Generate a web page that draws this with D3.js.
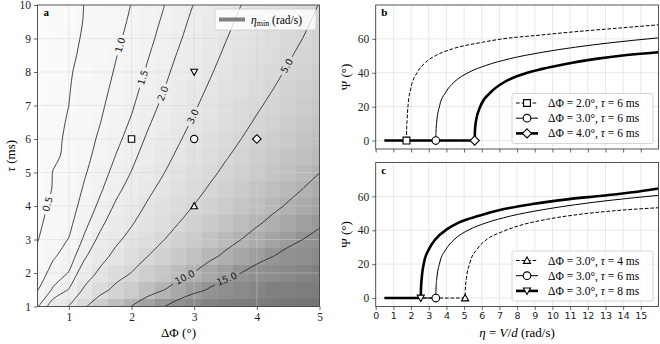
<!DOCTYPE html>
<html>
<head>
<meta charset="utf-8">
<script src="https://cdn.jsdelivr.net/npm/d3@7"></script>
<style>
body { margin: 0; background: #fff; }
svg { display: block; }
</style>
</head>
<body>
<svg id="fig" width="660" height="344"></svg>
<script>
// ---------- data ----------
// panel a: eta_min (rad/s) on a grid, rows = tau (ms), columns = delta phi (deg)
var dphi = [0.5, 0.75, 1, 1.25, 1.5, 1.75, 2, 2.25, 2.5, 2.75, 3, 3.25, 3.5, 3.75, 4, 4.25, 4.5, 4.75, 5];
var tau = [1, 1.5, 2, 2.5, 3, 3.5, 4, 4.5, 5, 5.5, 6, 6.5, 7, 7.5, 8, 8.5, 9, 9.5, 10];
var etaMin = [
  [1.45, 2.35, 3.05, 4.75, 6.45, 8.3, 10.1, 12.4, 14.7, 17.4, 20.2, 23.3, 26.6, 30.0, 33.6, 37.3, 41.2, 45.4, 49.8],
  [0.97, 1.57, 2.03, 3.17, 4.30, 5.53, 6.73, 8.27, 9.80, 11.6, 13.5, 15.5, 17.7, 20.0, 22.4, 24.9, 27.5, 30.3, 33.2],
  [0.73, 1.18, 1.53, 2.38, 3.23, 4.15, 5.05, 6.20, 7.35, 8.70, 10.1, 11.7, 13.3, 15.0, 16.8, 18.7, 20.6, 22.7, 24.9],
  [0.58, 0.94, 1.22, 1.90, 2.58, 3.32, 4.04, 4.96, 5.88, 6.96, 8.08, 9.32, 10.6, 12.0, 13.4, 14.9, 16.5, 18.2, 19.9],
  [0.48, 0.78, 1.02, 1.58, 2.15, 2.77, 3.37, 4.13, 4.90, 5.80, 6.73, 7.77, 8.87, 10.0, 11.2, 12.4, 13.7, 15.1, 16.6],
  [0.41, 0.67, 0.87, 1.36, 1.84, 2.37, 2.89, 3.54, 4.20, 4.97, 5.77, 6.66, 7.60, 8.57, 9.60, 10.7, 11.8, 13.0, 14.2],
  [0.36, 0.59, 0.76, 1.19, 1.61, 2.08, 2.53, 3.10, 3.68, 4.35, 5.05, 5.83, 6.65, 7.50, 8.40, 9.33, 10.3, 11.4, 12.5],
  [0.32, 0.52, 0.68, 1.06, 1.43, 1.84, 2.24, 2.76, 3.27, 3.87, 4.49, 5.18, 5.91, 6.67, 7.47, 8.29, 9.16, 10.1, 11.1],
  [0.29, 0.51, 0.61, 0.95, 1.29, 1.66, 2.02, 2.48, 2.94, 3.48, 4.04, 4.66, 5.32, 6.00, 6.72, 7.46, 8.24, 9.08, 9.96],
  [0.26, 0.45, 0.56, 0.86, 1.17, 1.51, 1.84, 2.25, 2.67, 3.16, 3.67, 4.24, 4.84, 5.45, 6.11, 6.78, 7.49, 8.25, 9.05],
  [0.24, 0.43, 0.55, 0.79, 1.08, 1.38, 1.68, 2.07, 2.45, 2.90, 3.37, 3.88, 4.43, 5.00, 5.60, 6.22, 6.87, 7.57, 8.30],
  [0.22, 0.40, 0.53, 0.73, 0.99, 1.28, 1.55, 1.91, 2.26, 2.68, 3.11, 3.58, 4.09, 4.62, 5.17, 5.74, 6.34, 6.98, 7.66],
  [0.21, 0.37, 0.50, 0.68, 0.92, 1.19, 1.44, 1.77, 2.10, 2.49, 2.89, 3.33, 3.80, 4.29, 4.80, 5.33, 5.89, 6.49, 7.11],
  [0.19, 0.34, 0.48, 0.66, 0.86, 1.11, 1.35, 1.65, 1.96, 2.32, 2.69, 3.11, 3.55, 4.00, 4.48, 4.97, 5.49, 6.05, 6.64],
  [0.18, 0.31, 0.46, 0.62, 0.81, 1.04, 1.26, 1.55, 1.84, 2.18, 2.53, 2.91, 3.33, 3.75, 4.20, 4.66, 5.15, 5.68, 6.23],
  [0.17, 0.29, 0.42, 0.58, 0.76, 0.98, 1.19, 1.46, 1.73, 2.05, 2.38, 2.74, 3.13, 3.53, 3.95, 4.39, 4.85, 5.34, 5.86],
  [0.16, 0.27, 0.38, 0.55, 0.72, 0.92, 1.12, 1.38, 1.63, 1.93, 2.24, 2.59, 2.96, 3.33, 3.73, 4.14, 4.58, 5.04, 5.53],
  [0.15, 0.26, 0.35, 0.52, 0.68, 0.87, 1.06, 1.31, 1.55, 1.83, 2.13, 2.45, 2.80, 3.16, 3.54, 3.93, 4.34, 4.78, 5.30],
  [0.15, 0.25, 0.33, 0.51, 0.65, 0.83, 1.01, 1.24, 1.47, 1.74, 2.02, 2.33, 2.66, 3.00, 3.36, 3.73, 4.12, 4.54, 5.05]
];
var levels = [0.5, 1, 1.5, 2, 3, 5, 10, 15];
var labelDphi = [0.66, 1.82, 2.18, 2.50, 2.98, 4.48, 2.85, 3.52]; // where each level label sits (deg)
var caseDphi = [2, 3, 4, 3, 3];
var caseTau = [6, 6, 6, 4, 8];
var caseSym = ["square", "circle", "diamond", "triUp", "triDown"];

// panels b, c: Psi (deg) vs eta (rad/s)
var etaSq = [0.5, 1.74, 1.75, 1.775, 1.83, 1.98, 2.36, 2.83, 3.40, 4.34, 6.04, 7.17, 9.06, 10.94, 13.2, 16];
var psiSq = [0, 0, 6.5, 12, 20.7, 30.5, 40.3, 46.2, 50.2, 54.1, 58, 60, 62, 63.9, 65.9, 68.3];
var etaCi = [0.5, 3.40, 3.41, 3.45, 3.62, 3.96, 4.43, 5.28, 6.23, 7.55, 9.43, 11.3, 13.2, 16];
var psiCi = [0, 0, 4.6, 10.8, 20.7, 28.5, 34.4, 40.3, 44.3, 48.2, 52.1, 55.1, 57.6, 60.6];
var etaDi = [0.5, 5.60, 5.61, 5.66, 5.94, 6.51, 7.26, 8.11, 9.43, 10.75, 12.45, 13.96, 16];
var psiDi = [0, 0, 4.5, 10.8, 20.7, 28.5, 34.4, 38.4, 42.3, 45.2, 48.2, 50.2, 52.1];
var etaTu = [0.5, 5.06, 5.07, 5.13, 5.34, 5.75, 6.32, 7.08, 8.11, 9.81, 11.7, 13.58, 16];
var psiTu = [0, 0, 4.8, 11.4, 21.2, 29, 34.9, 38.8, 42.7, 46.7, 49.6, 51.6, 53.3];
var etaTd = [0.5, 2.55, 2.56, 2.60, 2.74, 3.02, 3.40, 4.06, 4.72, 5.85, 7.26, 8.87, 10.94, 12.83, 14.53, 16];
var psiTd = [0, 0, 4.8, 11.4, 21.2, 29, 34.9, 40.8, 44.7, 48.6, 52.5, 55.5, 58.4, 60.4, 62.4, 64.7];

var seriesB = [
  { eta: etaSq, psi: psiSq, sym: "square", dphi: "2.0", tau: "6", style: "dash" },
  { eta: etaCi, psi: psiCi, sym: "circle", dphi: "3.0", tau: "6", style: "thin" },
  { eta: etaDi, psi: psiDi, sym: "diamond", dphi: "4.0", tau: "6", style: "thick" }
];
var seriesC = [
  { eta: etaTu, psi: psiTu, sym: "triUp", dphi: "3.0", tau: "4", style: "dash" },
  { eta: etaCi, psi: psiCi, sym: "circle", dphi: "3.0", tau: "6", style: "thin" },
  { eta: etaTd, psi: psiTd, sym: "triDown", dphi: "3.0", tau: "8", style: "thick" }
];

// ---------- helpers ----------
var serif = '"Liberation Serif", "DejaVu Serif", serif';
var sans = '"DejaVu Sans", sans-serif';
var frameCol = "#404040";
var svg = d3.select("#fig");

function symPath(sym, size) {
  var s = size;
  if (sym === "square") return "M" + (-s) + "," + (-s) + "H" + s + "V" + s + "H" + (-s) + "Z";
  if (sym === "circle") return "M" + s + ",0A" + s + "," + s + " 0 1,1 " + (-s) + ",0A" + s + "," + s + " 0 1,1 " + s + ",0Z";
  if (sym === "diamond") { var d = s * 1.35; return "M0," + (-d) + "L" + d + ",0L0," + d + "L" + (-d) + ",0Z"; }
  var h = s * 1.05;
  if (sym === "triUp") return "M0," + (-h) + "L" + h + "," + (h * 0.8) + "L" + (-h) + "," + (h * 0.8) + "Z";
  return "M0," + h + "L" + h + "," + (-h * 0.8) + "L" + (-h) + "," + (-h * 0.8) + "Z";
}

function styleAxis(g, font, size) {
  g.select(".domain").remove();
  g.selectAll(".tick line").attr("stroke", frameCol).attr("stroke-width", 0.8);
  g.selectAll(".tick text").attr("font-family", font).attr("font-size", size).attr("fill", "#222");
}

// ---------- panel a ----------
var A = { l: 37.5, r: 319.5, t: 5, b: 306.5 };
var ax = d3.scaleLinear().domain([0.5, 5]).range([A.l, A.r]);
var ay = d3.scaleLinear().domain([1, 10]).range([A.b, A.t]);
var grey = d3.scaleLinear()
  .domain([0, 1, 3, 5, 10, 15, 25, 50])
  .range(["#fcfcfc", "#f5f5f5", "#e6e6e6", "#d7d7d7", "#b3b3b3", "#949494", "#808080", "#737373"]);

var defs = svg.append("defs");
defs.append("clipPath").attr("id", "clipA").append("rect")
  .attr("x", A.l).attr("y", A.t).attr("width", A.r - A.l).attr("height", A.b - A.t);

var pa = svg.append("g").attr("clip-path", "url(#clipA)");

function edges(v) {
  return v.map(function (d, i) {
    var lo = i === 0 ? d - (v[1] - v[0]) / 2 : (v[i - 1] + d) / 2;
    var hi = i === v.length - 1 ? d + (v[i] - v[i - 1]) / 2 : (d + v[i + 1]) / 2;
    return [lo, hi];
  });
}
var ex = edges(dphi), ey = edges(tau);
var cells = [];
etaMin.forEach(function (row, j) {
  row.forEach(function (v, i) { cells.push({ i: i, j: j, v: v }); });
});
pa.append("g").attr("shape-rendering", "crispEdges")
  .selectAll("rect").data(cells).enter().append("rect")
  .attr("x", function (d) { return ax(ex[d.i][0]); })
  .attr("y", function (d) { return ay(ey[d.j][1]); })
  .attr("width", function (d) { return ax(ex[d.i][1]) - ax(ex[d.i][0]) + 0.5; })
  .attr("height", function (d) { return ay(ey[d.j][0]) - ay(ey[d.j][1]) + 0.5; })
  .attr("fill", function (d) { return grey(d.v); });

// grid
var ga = pa.append("g").attr("stroke", "#d4d4d4").attr("stroke-opacity", 0.55).attr("stroke-width", 0.8);
[1, 2, 3, 4].forEach(function (v) {
  ga.append("line").attr("x1", ax(v)).attr("x2", ax(v)).attr("y1", A.t).attr("y2", A.b);
});
[2, 3, 4, 5, 6, 7, 8, 9].forEach(function (v) {
  ga.append("line").attr("y1", ay(v)).attr("y2", ay(v)).attr("x1", A.l).attr("x2", A.r);
});

// contours
var nx = dphi.length, ny = tau.length;
var flat = [];
etaMin.forEach(function (row) { row.forEach(function (v) { flat.push(v); }); });
var conts = d3.contours().size([nx, ny]).thresholds(levels)(flat);
var gx = d3.scaleLinear().domain([0.5, nx - 0.5]).range([dphi[0], dphi[nx - 1]]);
var gy = d3.scaleLinear().domain([0.5, ny - 0.5]).range([tau[0], tau[ny - 1]]);

function ringRuns(ring) {
  var pts = ring.slice(0, ring.length - 1);
  var inside = pts.map(function (p) { return p[0] > 0 && p[0] < nx && p[1] > 0 && p[1] < ny; });
  var start = inside.indexOf(false);
  var runs = [], cur = [];
  if (start < 0) return [pts.concat([pts[0]])];
  for (var k = 1; k <= pts.length; k++) {
    var idx = (start + k) % pts.length;
    if (inside[idx]) cur.push(pts[idx]);
    else { if (cur.length > 1) runs.push(cur); cur = []; }
  }
  if (cur.length > 1) runs.push(cur);
  return runs;
}

var levelRuns = conts.map(function (c) {
  var runs = [];
  c.coordinates.forEach(function (poly) {
    poly.forEach(function (ring) {
      ringRuns(ring).forEach(function (r) {
        runs.push(r.map(function (p) { return [ax(gx(p[0])), ay(gy(p[1]))]; }));
      });
    });
  });
  return runs;
});

function findAt(runs, X) {
  for (var r = 0; r < runs.length; r++) {
    var run = runs[r];
    for (var k = 0; k < run.length - 1; k++) {
      var p = run[k], q = run[k + 1];
      if ((p[0] - X) * (q[0] - X) <= 0 && p[0] !== q[0]) {
        var t = (X - p[0]) / (q[0] - p[0]);
        var ang = Math.atan2(q[1] - p[1], q[0] - p[0]) * 180 / Math.PI;
        if (ang > 90) ang -= 180;
        if (ang <= -90) ang += 180;
        return { x: X, y: p[1] + t * (q[1] - p[1]), a: ang };
      }
    }
  }
  return null;
}

var mask = defs.append("mask").attr("id", "labelGaps");
mask.append("rect").attr("x", 0).attr("y", 0).attr("width", 660).attr("height", 344).attr("fill", "#fff");

var line = d3.line().curve(d3.curveCatmullRom.alpha(0.5));
var cg = pa.append("g").attr("mask", "url(#labelGaps)")
  .attr("fill", "none").attr("stroke", "#1a1a1a").attr("stroke-width", 0.8);
levelRuns.forEach(function (runs) {
  runs.forEach(function (run) { cg.append("path").attr("d", line(run)); });
});

var lg = svg.append("g");
levels.forEach(function (lv, i) {
  var pos = findAt(levelRuns[i], ax(labelDphi[i]));
  if (!pos) return;
  var t = lg.append("text")
    .attr("transform", "translate(" + pos.x + "," + pos.y + ") rotate(" + pos.a + ")")
    .attr("text-anchor", "middle").attr("dy", "0.35em")
    .attr("font-family", sans).attr("font-size", 9.5).attr("fill", "#1a1a1a")
    .text(lv.toFixed(1));
  var w = t.node().getComputedTextLength() + 6;
  mask.append("rect")
    .attr("x", -w / 2).attr("y", -5).attr("width", w).attr("height", 10)
    .attr("transform", "translate(" + pos.x + "," + pos.y + ") rotate(" + pos.a + ")")
    .attr("fill", "#000");
});

// case markers
svg.append("g").selectAll("path").data(caseSym).enter().append("path")
  .attr("transform", function (d, i) { return "translate(" + ax(caseDphi[i]) + "," + ay(caseTau[i]) + ")"; })
  .attr("d", function (d) { return symPath(d, d === "circle" ? 3.6 : 3.2); })
  .attr("fill", "#fff").attr("stroke", "#000").attr("stroke-width", 1.1);

// frame + axes
svg.append("rect").attr("x", A.l).attr("y", A.t).attr("width", A.r - A.l).attr("height", A.b - A.t)
  .attr("fill", "none").attr("stroke", frameCol).attr("stroke-width", 0.9);
svg.append("g").attr("transform", "translate(0," + A.b + ")")
  .call(d3.axisBottom(ax).tickValues([1, 2, 3, 4, 5]).tickFormat(d3.format("d")).tickSize(3.5).tickPadding(3))
  .call(styleAxis, serif, 11.5);
svg.append("g").attr("transform", "translate(" + A.l + ",0)")
  .call(d3.axisLeft(ay).tickValues([1, 2, 3, 4, 5, 6, 7, 8, 9, 10]).tickFormat(d3.format("d")).tickSize(3.5).tickPadding(3))
  .call(styleAxis, serif, 11.5);

svg.append("text").attr("x", (A.l + A.r) / 2).attr("y", 337).attr("text-anchor", "middle")
  .attr("font-family", serif).attr("font-size", 13).text("ΔΦ (°)");
var tl = svg.append("text").attr("transform", "translate(15," + (A.t + A.b) / 2 + ") rotate(-90)")
  .attr("text-anchor", "middle").attr("font-family", serif).attr("font-size", 13);
tl.append("tspan").attr("font-style", "italic").text("τ");
tl.append("tspan").text(" (ms)");

svg.append("text").attr("x", A.l + 6).attr("y", A.t + 11).attr("font-family", serif)
  .attr("font-weight", "bold").attr("font-size", 11).text("a");

// legend a
var la = svg.append("g").attr("transform", "translate(215,9)");
la.append("rect").attr("width", 101).attr("height", 21).attr("rx", 2)
  .attr("fill", "#fff").attr("fill-opacity", 0.8).attr("stroke", "#cccccc").attr("stroke-width", 0.8);
la.append("line").attr("x1", 4).attr("x2", 30).attr("y1", 10.5).attr("y2", 10.5)
  .attr("stroke", "#808080").attr("stroke-width", 4);
var lat = la.append("text").attr("x", 36).attr("y", 14.5).attr("font-family", serif).attr("font-size", 11.5);
lat.append("tspan").attr("font-style", "italic").text("η");
lat.append("tspan").attr("font-size", 8).attr("dy", 2.5).text("min");
lat.append("tspan").attr("dy", -2.5).text(" (rad/s)");

// ---------- panels b, c ----------
var X0 = 375.7, X1 = 658.5;
var bx = d3.scaleLinear().domain([0, 16]).range([X0, X1]);
var strokeStyles = {
  dash: { w: 1, dash: "3.7,1.8" },
  thin: { w: 1, dash: null },
  thick: { w: 2.6, dash: null }
};

function psiPanel(series, top, bottom, letter, showX) {
  var y = d3.scaleLinear().domain([-5, 80]).range([bottom, top]);
  var id = "clip" + letter;
  defs.append("clipPath").attr("id", id).append("rect")
    .attr("x", X0).attr("y", top).attr("width", X1 - X0).attr("height", bottom - top);

  var grid = svg.append("g").attr("stroke", "#e2e2e2").attr("stroke-width", 0.8);
  d3.range(1, 16).forEach(function (v) {
    grid.append("line").attr("x1", bx(v)).attr("x2", bx(v)).attr("y1", top).attr("y2", bottom);
  });
  [0, 20, 40, 60].forEach(function (v) {
    grid.append("line").attr("y1", y(v)).attr("y2", y(v)).attr("x1", X0).attr("x2", X1);
  });

  var g = svg.append("g").attr("clip-path", "url(#" + id + ")");
  var ln = d3.line().x(function (d) { return bx(d[0]); }).y(function (d) { return y(d[1]); })
    .curve(d3.curveMonotoneX);
  series.forEach(function (s) {
    var st = strokeStyles[s.style];
    g.append("path").datum(s.eta.map(function (e, i) { return [e, s.psi[i]]; }))
      .attr("d", ln).attr("fill", "none").attr("stroke", "#000")
      .attr("stroke-width", st.w).attr("stroke-dasharray", st.dash);
  });
  series.forEach(function (s) {
    g.append("path")
      .attr("transform", "translate(" + bx(s.eta[1]) + "," + y(s.psi[1]) + ")")
      .attr("d", symPath(s.sym, s.sym === "circle" ? 3.8 : 3.4))
      .attr("fill", "#fff").attr("stroke", "#000").attr("stroke-width", 1.1);
  });

  svg.append("rect").attr("x", X0).attr("y", top).attr("width", X1 - X0).attr("height", bottom - top)
    .attr("fill", "none").attr("stroke", frameCol).attr("stroke-width", 0.9);
  svg.append("g").attr("transform", "translate(0," + bottom + ")")
    .call(d3.axisBottom(bx).tickValues(d3.range(0, 16)).tickFormat(showX ? d3.format("d") : "")
      .tickSize(3.5).tickPadding(2.5))
    .call(styleAxis, sans, 9.5);
  svg.append("g").attr("transform", "translate(" + X0 + ",0)")
    .call(d3.axisLeft(y).tickValues([0, 20, 40, 60]).tickFormat(d3.format("d")).tickSize(3.5).tickPadding(3))
    .call(styleAxis, serif, 11.5);

  svg.append("text").attr("x", X0 + 5.5).attr("y", top + 11).attr("font-family", serif)
    .attr("font-weight", "bold").attr("font-size", 11).text(letter);
  svg.append("text").attr("transform", "translate(350," + (top + bottom) / 2 + ") rotate(-90)")
    .attr("text-anchor", "middle").attr("font-family", serif).attr("font-size", 13).text("Ψ (°)");

  // legend
  var lw = 141, lh = 50;
  var lgd = svg.append("g").attr("transform", "translate(" + (X1 - 5.5 - lw) + "," + (bottom - 5.5 - lh) + ")");
  lgd.append("rect").attr("width", lw).attr("height", lh).attr("rx", 2)
    .attr("fill", "#fff").attr("fill-opacity", 0.8).attr("stroke", "#cccccc").attr("stroke-width", 0.8);
  series.forEach(function (s, i) {
    var cy = 9.5 + i * 15.2;
    var st = strokeStyles[s.style];
    lgd.append("line").attr("x1", 4).attr("x2", 26).attr("y1", cy).attr("y2", cy)
      .attr("stroke", "#000").attr("stroke-width", st.w).attr("stroke-dasharray", st.dash);
    lgd.append("path").attr("transform", "translate(15," + cy + ")")
      .attr("d", symPath(s.sym, s.sym === "circle" ? 3.8 : 3.4))
      .attr("fill", "#fff").attr("stroke", "#000").attr("stroke-width", 1.1);
    var t = lgd.append("text").attr("x", 36).attr("y", cy + 4)
      .attr("font-family", serif).attr("font-size", 11.5);
    t.append("tspan").text("ΔΦ = " + s.dphi + "°, ");
    t.append("tspan").attr("font-style", "italic").text("τ");
    t.append("tspan").text(" = " + s.tau + " ms");
  });
}

psiPanel(seriesB, 5, 149, "b", false);
psiPanel(seriesC, 162.5, 306.5, "c", true);

var xl = svg.append("text").attr("x", (X0 + X1) / 2).attr("y", 337).attr("text-anchor", "middle")
  .attr("font-family", serif).attr("font-size", 13);
xl.append("tspan").attr("font-style", "italic").text("η");
xl.append("tspan").text(" = ");
xl.append("tspan").attr("font-style", "italic").text("V");
xl.append("tspan").text("/");
xl.append("tspan").attr("font-style", "italic").text("d");
xl.append("tspan").text(" (rad/s)");
</script>
</body>
</html>
